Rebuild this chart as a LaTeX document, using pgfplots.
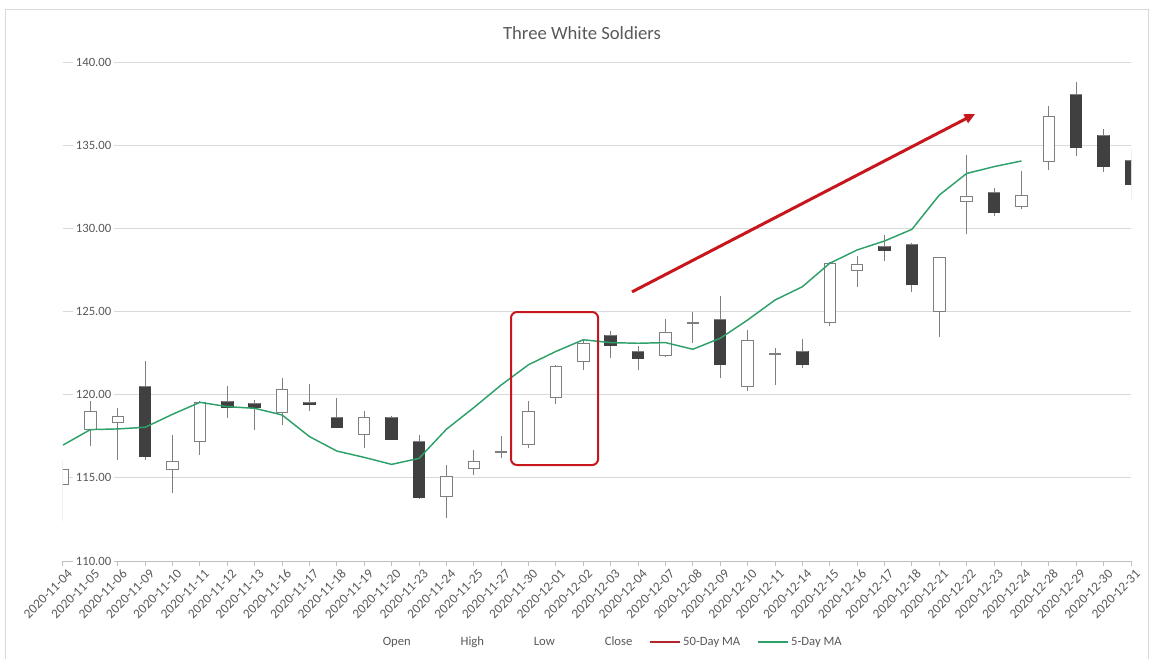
\documentclass[border=0pt]{standalone}
\usepackage{fontspec}
\setmainfont{Carlito}
\usepackage{pgfplots}
\usepackage{pgfplotstable}
\pgfplotsset{compat=1.18}
\usetikzlibrary{arrows.meta}

\definecolor{txt}{HTML}{595959}
\definecolor{gridc}{HTML}{D9D9D9}
\definecolor{axisc}{HTML}{BFBFBF}
\definecolor{wick}{HTML}{7F7F7F}
\definecolor{downc}{HTML}{404040}
\definecolor{magreen}{HTML}{2EA06A}
\definecolor{mared}{HTML}{B0262B}
\definecolor{annred}{HTML}{C8161D}

% daily prices, i = trading day index
\pgfplotstableread{
i  open   high   low    close
0  114.6  116.0  112.4  115.5
1  117.9  119.6  116.9  119.0
2  118.3  119.2  116.1  118.7
3  120.5  122.0  116.1  116.3
4  115.5  117.6  114.1  116.0
5  117.2  119.6  116.4  119.5
6  119.6  120.5  118.6  119.2
7  119.45 119.7  117.9  119.25
8  118.9  121.0  118.2  120.3
9  119.55 120.65 119.0  119.4
10 118.6  119.8  118.0  118.05
11 117.6  119.0  116.8  118.6
12 118.6  118.7  117.25 117.3
13 117.2  117.6  113.75 113.8
14 113.9  115.8  112.6  115.1
15 115.55 116.7  115.2  116.0
16 116.55 117.5  116.2  116.6
17 117.0  119.6  116.8  119.0
18 119.8  121.8  119.45 121.7
19 122.0  123.3  121.5  123.1
20 123.55 123.8  122.2  122.95
21 122.6  122.9  121.5  122.2
22 122.35 124.55 122.25 123.75
23 124.3  125.0  123.1  124.35
24 124.5  125.95 121.0  121.8
25 120.5  123.9  120.2  123.25
26 122.4  122.8  120.6  122.45
27 122.6  123.35 121.6  121.8
28 124.35 127.95 124.15 127.9
29 127.45 128.35 126.5  127.8
30 128.9  129.6  128.05 128.65
31 129.0  129.1  126.15 126.65
32 125.0  128.3  123.45 128.25
33 131.6  134.4  129.65 131.9
34 132.15 132.4  130.75 130.95
35 131.3  133.45 131.15 132.0
36 134.0  137.35 133.5  136.7
37 138.05 138.8  134.35 134.85
38 135.6  135.95 133.4  133.7
39 134.1  134.75 131.75 132.65
}\candles

\pgfplotstableread{
i  ma
0  116.97
1  117.9
2  117.94
3  118.04
4  118.82
5  119.54
6  119.28
7  119.18
8  118.78
9  117.48
10 116.61
11 116.23
12 115.81
13 116.17
14 117.92
15 119.22
16 120.58
17 121.8
18 122.6
19 123.3
20 123.13
21 123.09
22 123.13
23 122.73
24 123.39
25 124.49
26 125.69
27 126.49
28 127.9
29 128.7
30 129.24
31 129.94
32 132.0
33 133.3
34 133.71
35 134.05
}\mafive

\begin{document}
\begin{tikzpicture}
\begin{axis}[
  at={(0pt,0pt)}, anchor=south west,
  scale only axis, width=801pt, height=374.25pt,
  xmin=0, xmax=39, ymin=110, ymax=140,
  axis x line*=bottom, axis y line*=left,
  x axis line style={draw=axisc, line width=0.75pt},
  y axis line style={draw=none},
  ytick={110,115,...,140},
  ytick style={draw=none},
  ymajorgrids, grid style={draw=gridc, line width=0.75pt},
  yticklabel={\pgfmathprintnumber[fixed,fixed zerofill,precision=2,assume math mode=true]{\tick}},
  yticklabel style={anchor=west, xshift=11pt, fill=white, inner sep=2pt,
    font=\fontsize{9.5}{11}\selectfont, text=txt},
  xtick={0,...,39},
  xticklabels={2020-11-04,2020-11-05,2020-11-06,2020-11-09,2020-11-10,2020-11-11,2020-11-12,2020-11-13,2020-11-16,2020-11-17,2020-11-18,2020-11-19,2020-11-20,2020-11-23,2020-11-24,2020-11-25,2020-11-27,2020-11-30,2020-12-01,2020-12-02,2020-12-03,2020-12-04,2020-12-07,2020-12-08,2020-12-09,2020-12-10,2020-12-11,2020-12-14,2020-12-15,2020-12-16,2020-12-17,2020-12-18,2020-12-21,2020-12-22,2020-12-23,2020-12-24,2020-12-28,2020-12-29,2020-12-30,2020-12-31},
  xticklabel style={rotate=45, anchor=east, inner sep=1pt, xshift=1.5pt, yshift=-7pt,
    font=\fontsize{10}{12}\selectfont, text=txt},
  xtick style={draw=axisc, line width=0.75pt},
  tick align=outside, major tick length=3.5pt,
  legend columns=-1,
  legend style={at={(0.5,-0.1623)}, anchor=center, draw=none, fill=none,
    font=\fontsize{9.5}{11}\selectfont, text=txt,
    /tikz/every even column/.append style={column sep=10.5pt}},
  legend image code/.code={\draw[#1] (0pt,0pt) -- (22.5pt,0pt);},
]
% wicks
\addplot[draw=none, mark=none, forget plot,
  error bars/.cd, y dir=plus, y explicit, error mark=none,
  error bar style={draw=wick, line width=0.75pt, solid}]
  table[x=i, y=low, y error expr=\thisrow{high}-\thisrow{low}] {\candles};
% bodies: invisible base, then falling and rising days
\addplot[ybar, bar width=0.42, bar shift=0pt, stack plots=y, draw=none, fill=none, forget plot]
  table[x=i, y expr={min(\thisrow{open},\thisrow{close})}] {\candles};
\addplot[ybar, bar width=0.42, bar shift=0pt, stack plots=y, draw=downc, fill=downc, line width=0.75pt, forget plot]
  table[x=i, y expr={max(\thisrow{open}-\thisrow{close},0)}] {\candles};
\addplot[ybar, bar width=0.42, bar shift=0pt, stack plots=y, draw=wick, fill=white, line width=0.75pt, forget plot]
  table[x=i, y expr={max(\thisrow{close}-\thisrow{open},0)}] {\candles};

\addlegendimage{legend image code/.code={\path (0pt,0pt) (22.5pt,0pt);}}
\addlegendentry{Open}
\addlegendimage{legend image code/.code={\path (0pt,0pt) (22.5pt,0pt);}}
\addlegendentry{High}
\addlegendimage{legend image code/.code={\path (0pt,0pt) (22.5pt,0pt);}}
\addlegendentry{Low}
\addlegendimage{legend image code/.code={\path (0pt,0pt) (22.5pt,0pt);}}
\addlegendentry{Close}
\addlegendimage{mared, line width=1.1pt}
\addlegendentry{50-Day MA}

\addplot[magreen, line width=1.1pt, mark=none] table[x=i, y=ma] {\mafive};
\addlegendentry{5-Day MA}

\draw[annred, line width=1.5pt, rounded corners=4.5pt]
  (axis cs:16.36,115.77) rectangle (axis cs:19.54,124.97);
\draw[annred, line width=2.25pt, -{Triangle[length=8pt,width=7pt]}]
  (axis cs:20.78,126.18) -- (axis cs:33.31,136.88);
\end{axis}

\node[text=txt, font=\fontsize{14}{16}\selectfont] at (389.25pt,396pt) {Three White Soldiers};
\draw[gridc, line width=0.75pt] (-42.75pt,-80pt) -- (-42.75pt,413.25pt) -- (813.75pt,413.25pt) -- (813.75pt,-80pt);
\pgfresetboundingbox
\useasboundingbox (-47.25pt,-72.75pt) rectangle (815.25pt,420.75pt);
\end{tikzpicture}
\end{document}
